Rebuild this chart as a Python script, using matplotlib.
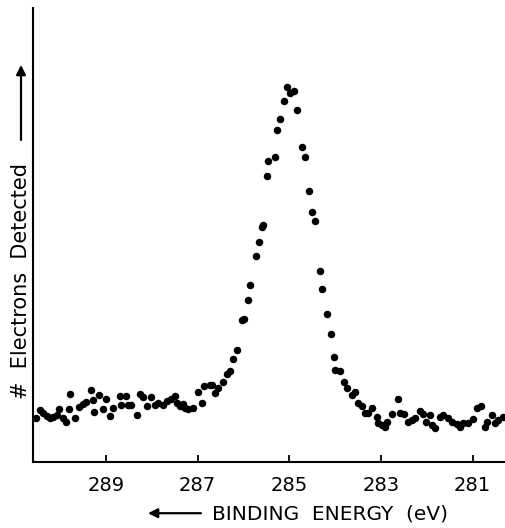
#!/usr/bin/env python3
"""Plots a C 1s photoelectron spectrum.

Example:
    $ python3 plot.py
"""

import matplotlib

matplotlib.use("Agg")
import matplotlib.pyplot as plt
import numpy as np

# binding energy (eV)
energy = [
    290.53, 290.44, 290.38, 290.29, 290.22, 290.16, 290.07, 290.03, 289.94, 289.87,
    289.81, 289.79, 289.68, 289.59, 289.50, 289.44, 289.33, 289.28, 289.26, 289.15,
    289.07, 289.00, 288.91, 288.85, 288.69, 288.67, 288.56, 288.52, 288.45, 288.32,
    288.26, 288.19, 288.10, 288.02, 287.93, 287.86, 287.76, 287.67, 287.58, 287.49,
    287.45, 287.38, 287.32, 287.28, 287.21, 287.10, 286.99, 286.90, 286.86, 286.73,
    286.69, 286.62, 286.55, 286.45, 286.36, 286.29, 286.23, 286.14, 286.03, 285.99,
    285.90, 285.86, 285.72, 285.66, 285.59, 285.57, 285.48, 285.46, 285.31, 285.27,
    285.20, 285.11, 285.05, 284.98, 284.90, 284.83, 284.72, 284.66, 284.57, 284.50,
    284.44, 284.33, 284.28, 284.17, 284.09, 284.02, 284.00, 283.89, 283.80, 283.74,
    283.63, 283.56, 283.50, 283.41, 283.34, 283.28, 283.19, 283.08, 283.06, 282.97,
    282.91, 282.86, 282.76, 282.62, 282.58, 282.49, 282.41, 282.32, 282.25, 282.14,
    282.08, 282.01, 281.93, 281.88, 281.82, 281.71, 281.64, 281.53, 281.45, 281.34,
    281.27, 281.21, 281.10, 280.99, 280.90, 280.81, 280.72, 280.68, 280.57, 280.51,
    280.44, 280.33,
]

# electrons detected (arbitrary units)
counts = [
    44, 52, 49, 46, 44, 45, 47, 53, 44, 40,
    53, 68, 44, 55, 58, 60, 72, 62, 50, 67,
    53, 63, 46, 54, 66, 57, 66, 57, 57, 47,
    68, 65, 56, 65, 57, 59, 57, 61, 63, 66,
    59, 56, 58, 54, 53, 54, 70, 59, 76, 77,
    77, 69, 74, 80, 88, 91, 103, 112, 142, 143,
    162, 177, 206, 220, 235, 237, 286, 301, 305, 332,
    343, 361, 375, 369, 371, 352, 315, 305, 271, 250,
    241, 191, 173, 148, 128, 105, 92, 91, 80, 74,
    67, 70, 59, 56, 49, 49, 54, 45, 39, 37,
    35, 40, 48, 63, 49, 48, 40, 42, 44, 51,
    48, 40, 47, 37, 34, 45, 47, 44, 40, 38,
    35, 39, 39, 43, 54, 56, 35, 40, 47, 39,
    42, 45,
]

tick_values = [289, 287, 285, 283, 281]
tick_labels = ["289", "287", "285", "283", "281"]


def plot_spectrum(image_name="out.png"):
    """Draw the spectrum and save it."""
    plt.rcParams["font.family"] = ["DejaVu Sans"]
    fig = plt.figure(figsize=(5.06, 5.28), dpi=100)
    ax = fig.add_axes([0.0652, 0.125, 0.9348, 0.860])

    ax.plot(np.array(energy), np.array(counts), "o", color="k",
            markersize=5.4, markeredgewidth=0, clip_on=False)

    ax.set_xlim(290.59, 280.27)
    ax.set_ylim(0, 454)

    for side in ("top", "right"):
        ax.spines[side].set_visible(False)
    for side in ("left", "bottom"):
        ax.spines[side].set_linewidth(1.5)

    ax.set_yticks([])
    ax.set_xticks(tick_values)
    ax.set_xticklabels(tick_labels)
    ax.tick_params(axis="x", direction="in", length=5, width=1.3,
                   pad=10, labelsize=14)

    # axis labels with their arrows
    fig.text(0.653, 0.0265, "BINDING  ENERGY  (eV)", ha="center",
             va="center", fontsize=14.5)
    ax.annotate("", xy=(148 / 506, 0.028), xytext=(201 / 506, 0.028),
                xycoords="figure fraction", textcoords="figure fraction",
                arrowprops=dict(arrowstyle="-|>", color="k", lw=1.6,
                                mutation_scale=14, shrinkA=0, shrinkB=0))

    fig.text(0.0415, 0.468, "#  Electrons  Detected", ha="center",
             va="center", rotation=90, fontsize=15)
    ax.annotate("", xy=(0.0415, 0.877), xytext=(0.0415, 0.735),
                xycoords="figure fraction", textcoords="figure fraction",
                arrowprops=dict(arrowstyle="-|>", color="k", lw=1.6,
                                mutation_scale=14, shrinkA=0, shrinkB=0))

    fig.savefig(image_name, dpi=100)
    return 0


if __name__ == "__main__":
    plot_spectrum("out.png")
